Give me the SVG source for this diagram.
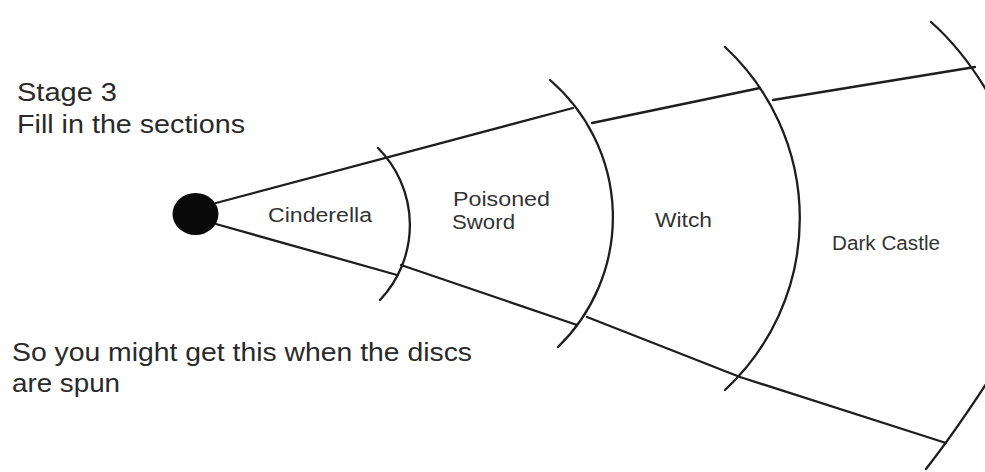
<svg xmlns="http://www.w3.org/2000/svg" width="985" height="472" viewBox="0 0 985 472">
  <style>
    .ln { fill: none; stroke: #1e1e1e; stroke-width: 2.3; stroke-linecap: round; stroke-linejoin: round; }
    .cap { font-family: "Liberation Sans", Arial, sans-serif; font-size: 25px; fill: #2a2a2a; }
    .lbl { font-family: "Liberation Sans", Arial, sans-serif; font-size: 20px; fill: #333333; }
  </style>
  <rect x="0" y="0" width="985" height="472" fill="#ffffff"/>

  <g id="caption-top">
    <text class="cap" x="17" y="101" textLength="100" lengthAdjust="spacingAndGlyphs">Stage 3</text>
    <text class="cap" x="17" y="133" textLength="228" lengthAdjust="spacingAndGlyphs">Fill in the sections</text>
  </g>
  <g id="caption-bottom">
    <text class="cap" x="12" y="361" textLength="460" lengthAdjust="spacingAndGlyphs">So you might get this when the discs</text>
    <text class="cap" x="12" y="392" textLength="108" lengthAdjust="spacingAndGlyphs">are spun</text>
  </g>

  <g id="connectors">
    <!-- upper radial line -->
    <path class="ln" d="M216,203 L573,108"/>
    <path class="ln" d="M592,123 L760,88"/>
    <path class="ln" d="M773,100 L975,67"/>
    <!-- lower radial line -->
    <path class="ln" d="M216,224 L397,275"/>
    <path class="ln" d="M401,265 L577,325"/>
    <path class="ln" d="M587,317 L740,377"/>
    <path class="ln" d="M740,377 L946,443"/>
  </g>

  <g id="rings">
    <path class="ln" d="M378,148 A109,109 0 0 1 380,300"/>
    <path class="ln" d="M550,80 A181,181 0 0 1 558,347"/>
    <path class="ln" d="M725,47 A234,234 0 0 1 725,390"/>
    <path class="ln" d="M931,22 Q965,52 992,100"/>
    <path class="ln" d="M926,469 Q955,432 990,378"/>
  </g>

  <g id="hub">
    <ellipse cx="195.5" cy="214" rx="23" ry="21" fill="#0a0a0a"/>
  </g>

  <g id="section-cinderella">
    <text class="lbl" x="268" y="222" textLength="104" lengthAdjust="spacingAndGlyphs">Cinderella</text>
  </g>
  <g id="section-poisoned-sword">
    <text class="lbl" x="453" y="206" textLength="97" lengthAdjust="spacingAndGlyphs">Poisoned</text>
    <text class="lbl" x="452" y="229" textLength="63" lengthAdjust="spacingAndGlyphs">Sword</text>
  </g>
  <g id="section-witch">
    <text class="lbl" x="655" y="227" textLength="57" lengthAdjust="spacingAndGlyphs">Witch</text>
  </g>
  <g id="section-dark-castle">
    <text class="lbl" x="832" y="250" textLength="108" lengthAdjust="spacingAndGlyphs">Dark Castle</text>
  </g>
</svg>
